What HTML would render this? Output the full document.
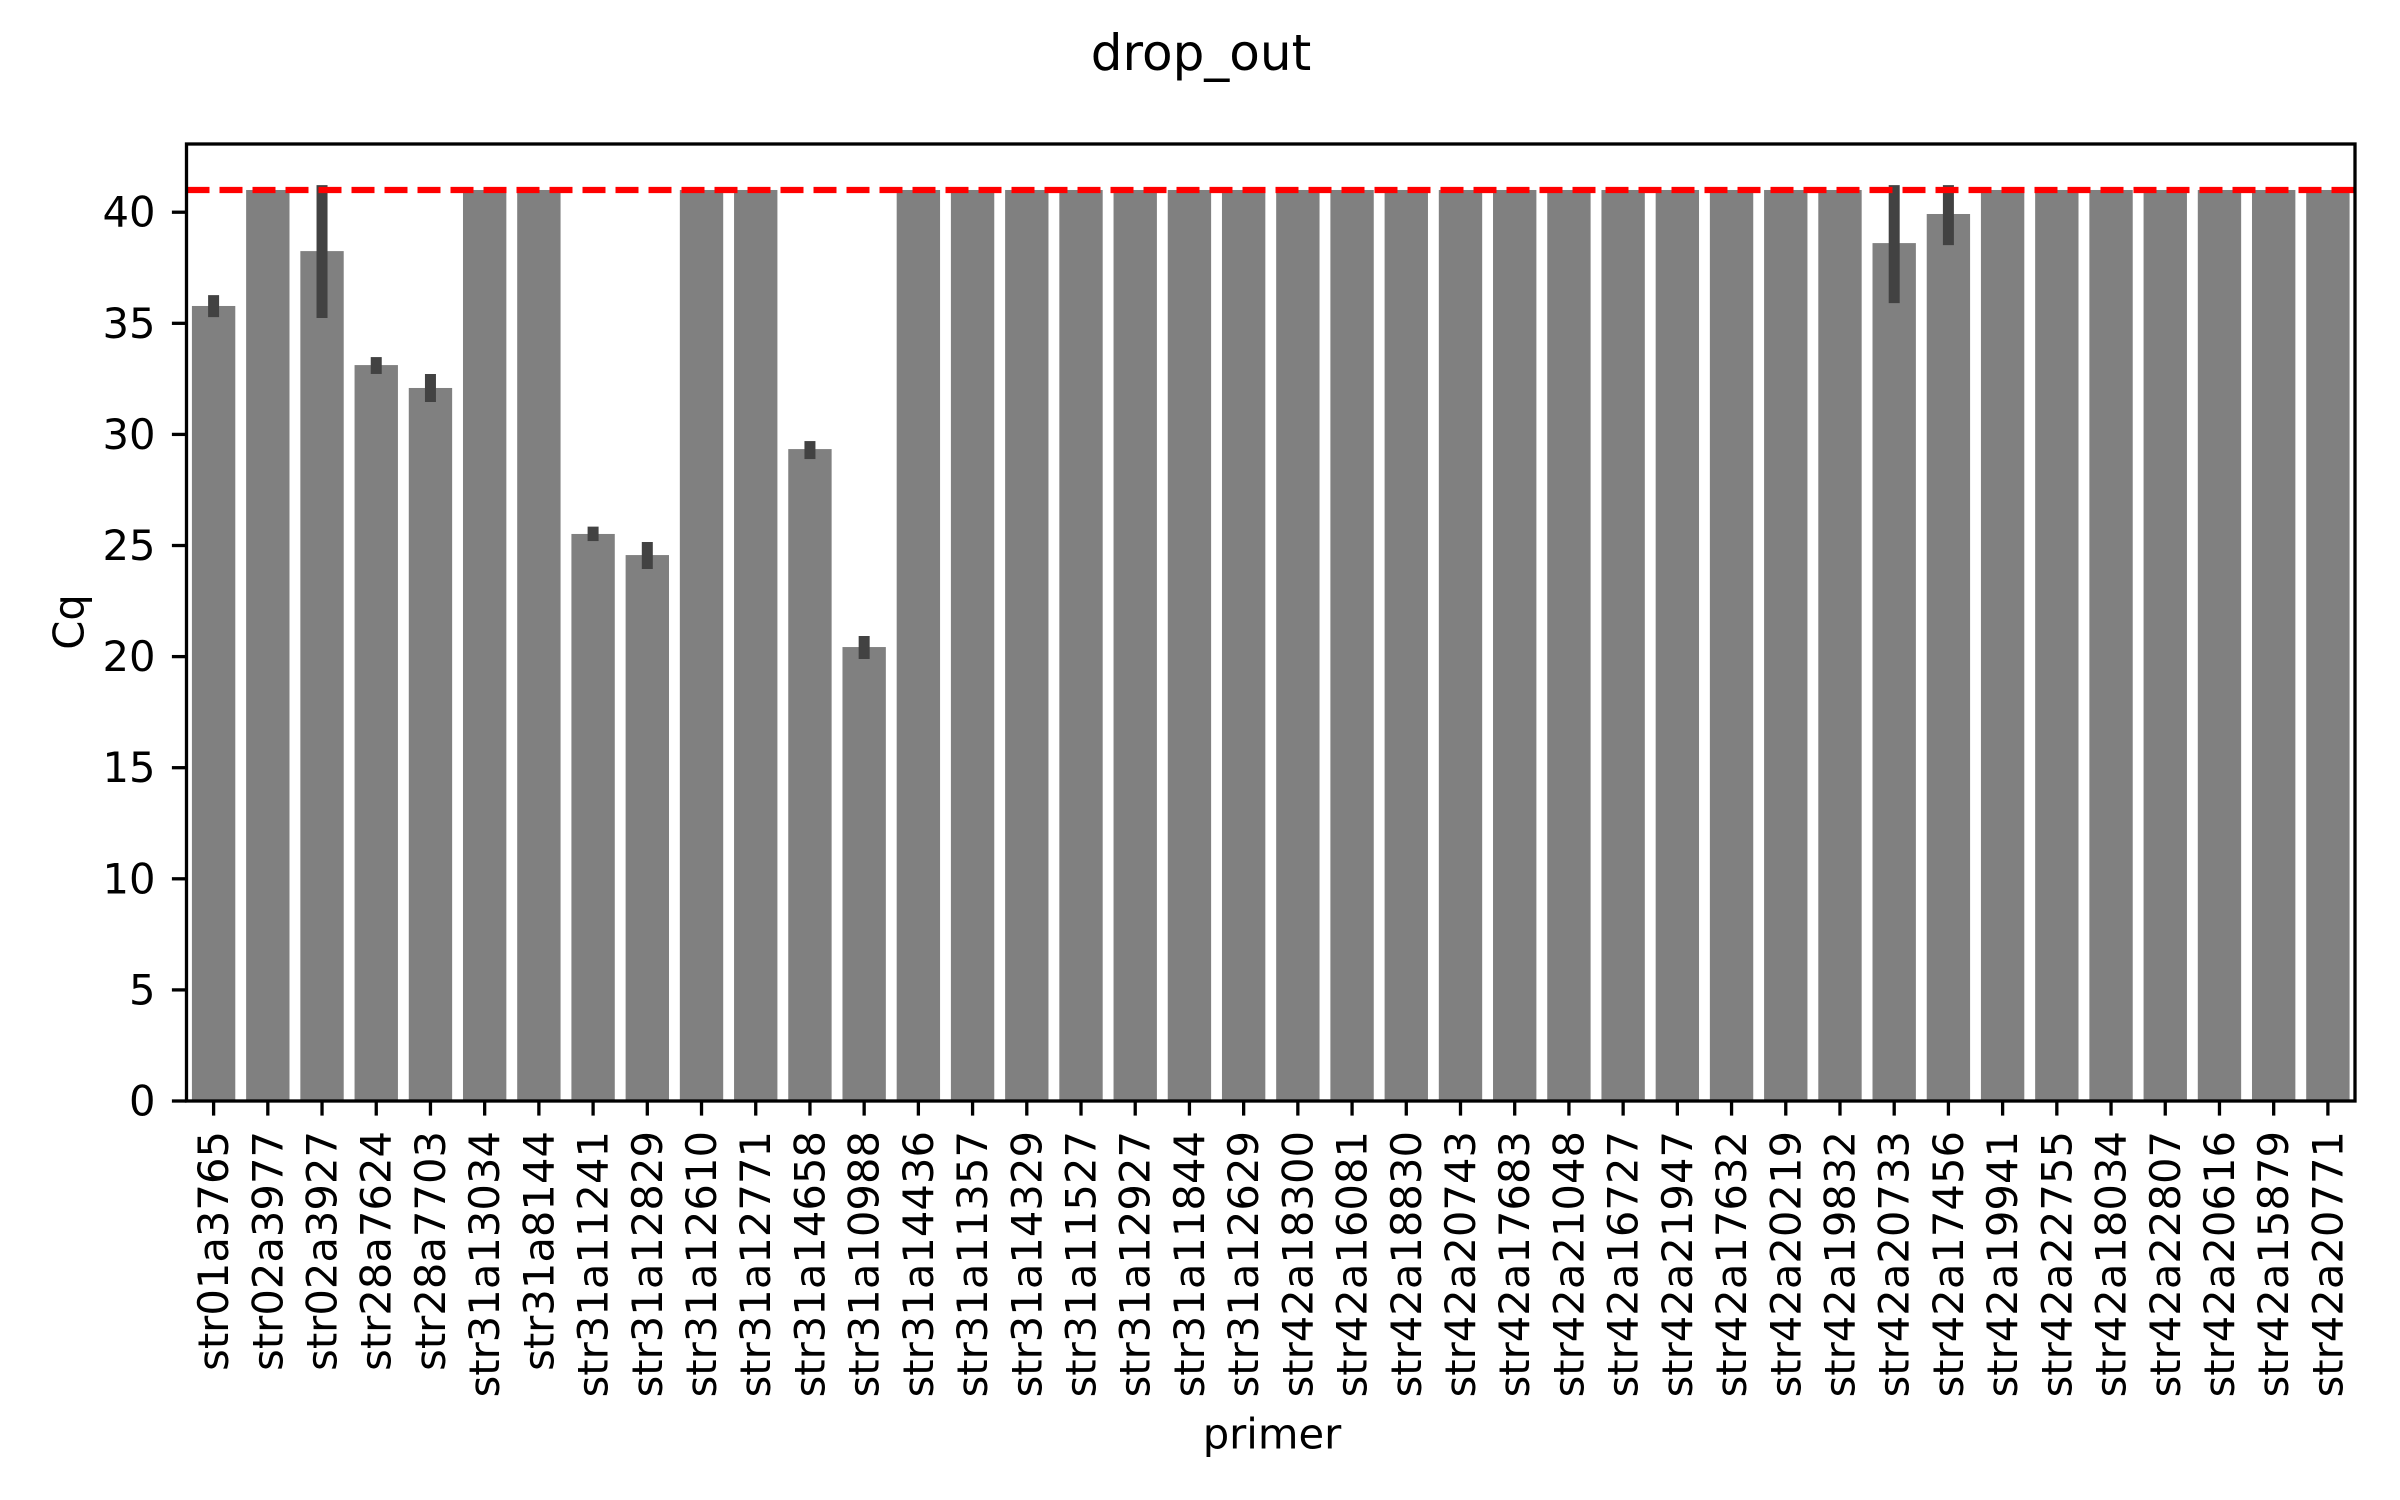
<!DOCTYPE html>
<html><head><meta charset="utf-8"><style>html,body{margin:0;padding:0;background:#fff}svg{display:block}text{font-family:"DejaVu Sans","Liberation Sans",sans-serif;fill:#000}</style></head>
<body>
<svg id="chart" width="2400" height="1500" viewBox="0 0 2400 1500" xmlns="http://www.w3.org/2000/svg">
<text x="1201" y="53" font-size="50" text-anchor="middle" dominant-baseline="central">drop_out</text>
<g id="bars"></g>
<g id="errs"></g>
<g id="yticks"></g>
<g id="xticks"></g>
<line id="thresh" stroke="#ff0000" stroke-width="6.25" stroke-dasharray="23,10"/>
<rect x="186.5" y="144" width="2168.5" height="957" fill="none" stroke="#000" stroke-width="3.3"/>
<text transform="translate(69,622) rotate(-90)" font-size="41.7" text-anchor="middle" dominant-baseline="central">Cq</text>
<text x="1272" y="1434" font-size="41.7" text-anchor="middle" dominant-baseline="central">primer</text>
</svg>
<script>
const categories = ["str01a3765","str02a3977","str02a3927","str28a7624","str28a7703","str31a13034","str31a8144","str31a11241","str31a12829","str31a12610","str31a12771","str31a14658","str31a10988","str31a14436","str31a11357","str31a14329","str31a11527","str31a12927","str31a11844","str31a12629","str42a18300","str42a16081","str42a18830","str42a20743","str42a17683","str42a21048","str42a16727","str42a21947","str42a17632","str42a20219","str42a19832","str42a20733","str42a17456","str42a19941","str42a22755","str42a18034","str42a22807","str42a20616","str42a15879","str42a20771"];
const values = [35.78,41,38.25,33.12,32.09,41,41,25.52,24.57,41,41,29.34,20.43,41,41,41,41,41,41,41,41,41,41,41,41,41,41,41,41,41,41,38.61,39.92,41,41,41,41,41,41,41];
const errLow = [35.28,41,35.24,32.72,31.46,41,41,25.2,23.94,41,41,28.89,19.89,41,41,41,41,41,41,41,41,41,41,41,41,41,41,41,41,41,41,35.91,38.52,41,41,41,41,41,41,41];
const errHigh = [36.27,41,41.22,33.48,32.72,41,41,25.85,25.16,41,41,29.70,20.93,41,41,41,41,41,41,41,41,41,41,41,41,41,41,41,41,41,41,41.22,41.22,41,41,41,41,41,41,41];
const yTicks = [0,5,10,15,20,25,30,35,40];
const threshold = 41;
const X0=186.5, X1=2355, Y0=1101, Y1=144, YMAX=43.07;
const NS="http://www.w3.org/2000/svg";
const slot=(X1-X0)/categories.length;
const xc=i=>X0+slot*(i+0.5);
const y=v=>Y0-(v/YMAX)*(Y0-Y1);
function mk(t,a,p){const e=document.createElementNS(NS,t);for(const k in a)e.setAttribute(k,a[k]);p.appendChild(e);return e;}
const gb=document.getElementById('bars'),ge=document.getElementById('errs'),gy=document.getElementById('yticks'),gx=document.getElementById('xticks');
categories.forEach((c,i)=>{
  const bw=slot*0.8;
  const r=mk('rect',{x:xc(i)-bw/2,y:y(values[i]),width:bw,height:Y0-y(values[i]),fill:'#808080'},gb);
  
  
  if(errHigh[i]-errLow[i]>0.01){
    const l=mk('line',{x1:xc(i),x2:xc(i),y1:y(errLow[i]),y2:y(errHigh[i]),stroke:'#424242','stroke-width':11},ge);
    
    
  }
  const t=mk('line',{x1:xc(i),x2:xc(i),y1:Y0,y2:Y0+14.6,stroke:'#000','stroke-width':3.3},gx);
  
  
  const tx=mk('text',{transform:`translate(${xc(i)},${Y0+30}) rotate(-90)`,'font-size':41.7,'text-anchor':'end','dominant-baseline':'central'},gx);
  tx.textContent=c;
  
  
});
yTicks.forEach(v=>{
  const t=mk('line',{x1:X0-14.6,x2:X0,y1:y(v),y2:y(v),stroke:'#000','stroke-width':3.3},gy);
  
  
  const tx=mk('text',{x:X0-31,y:y(v),'font-size':41.7,'text-anchor':'end','dominant-baseline':'central'},gy);
  tx.textContent=v;
  
  
});
const th=document.getElementById('thresh');
th.setAttribute('x1',X0);th.setAttribute('x2',X1);th.setAttribute('y1',y(threshold));th.setAttribute('y2',y(threshold));
</script>
</body></html>
